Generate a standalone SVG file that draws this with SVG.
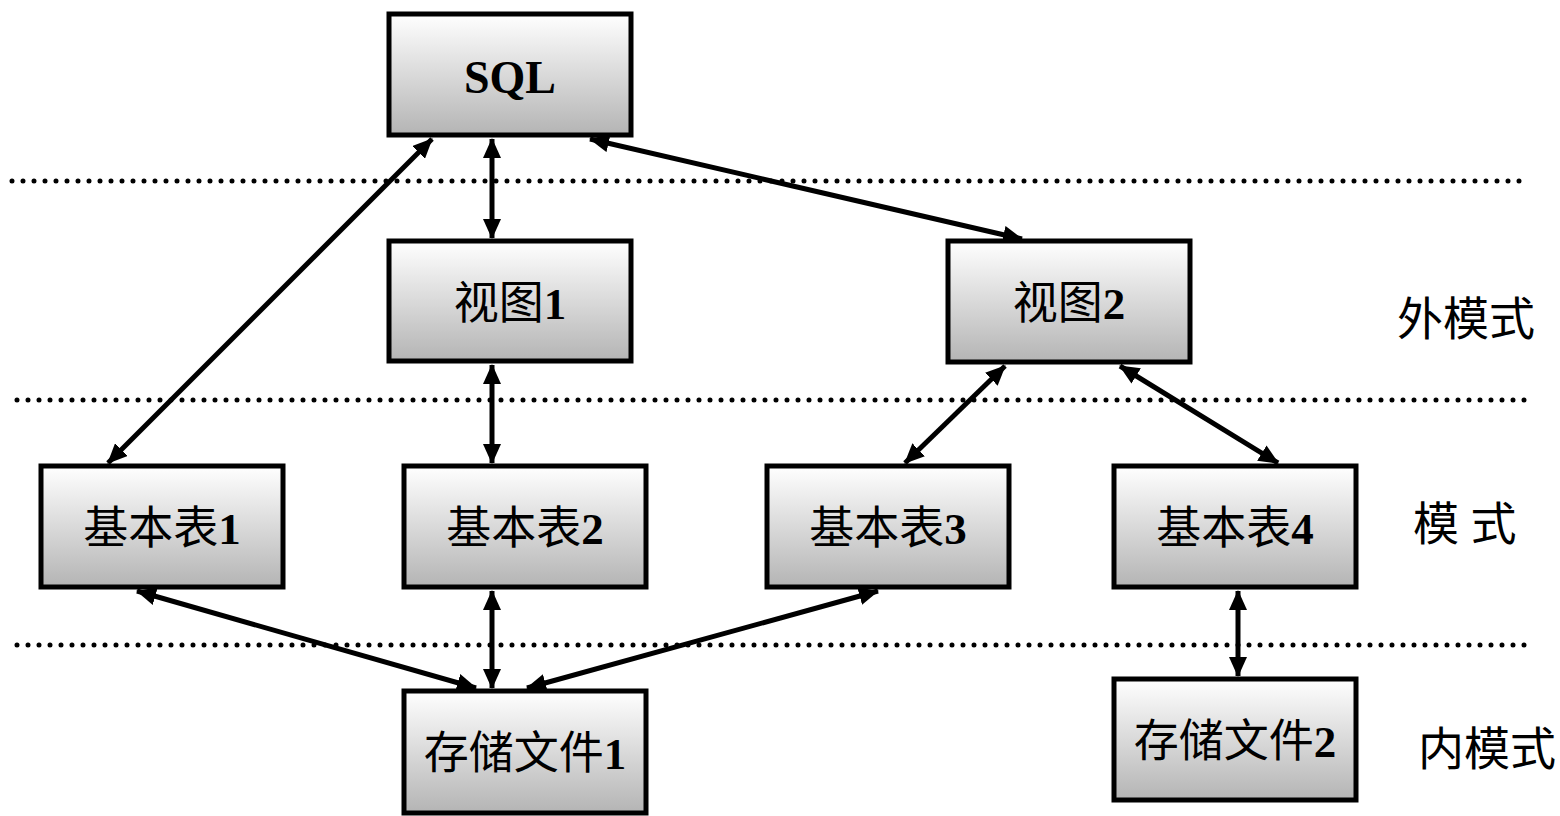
<svg xmlns="http://www.w3.org/2000/svg" width="1560" height="816" viewBox="0 0 1560 816">
<defs>
<linearGradient id="g" x1="0" y1="0" x2="0" y2="1">
<stop offset="0" stop-color="#ffffff"/>
<stop offset="1" stop-color="#b4b4b4"/>
</linearGradient>
<marker id="ah" viewBox="0 0 20 18" refX="19" refY="9" markerWidth="20" markerHeight="18" orient="auto-start-reverse" markerUnits="userSpaceOnUse">
<path d="M0,0 L20,9 L0,18 z" fill="#000"/>
</marker>
</defs>
<style>
.box{fill:url(#g);stroke:#000;stroke-width:5}
.t{font-family:"Liberation Serif","Noto Sans CJK SC",serif;font-size:45px;text-anchor:middle;fill:#000}
.b{font-weight:bold}
.lab{font-family:"Liberation Serif","Noto Sans CJK SC",serif;font-size:46px;fill:#000}
.dot{stroke:#000;stroke-width:5;stroke-linecap:round;stroke-dasharray:0 11;fill:none}
.c{stroke:#000;stroke-width:5;fill:none;marker-start:url(#ah);marker-end:url(#ah)}
</style>
<rect width="1560" height="816" fill="#fff"/>
<g id="layers">
<line class="dot" x1="12" y1="181" x2="1525" y2="181"/>
<line class="dot" x1="17" y1="400" x2="1530" y2="400"/>
<line class="dot" x1="17" y1="645" x2="1530" y2="645"/>
</g>
<g id="connectors">
<line class="c" x1="432" y1="139" x2="108" y2="463"/>
<line class="c" x1="492" y1="139" x2="492" y2="238"/>
<line class="c" x1="590" y1="139" x2="1022" y2="239"/>
<line class="c" x1="492" y1="365" x2="492" y2="463"/>
<line class="c" x1="1005" y1="366" x2="905" y2="463"/>
<line class="c" x1="1120" y1="366" x2="1278" y2="463"/>
<line class="c" x1="137" y1="591" x2="476" y2="688"/>
<line class="c" x1="492" y1="591" x2="492" y2="688"/>
<line class="c" x1="878" y1="591" x2="527" y2="688"/>
<line class="c" x1="1238" y1="591" x2="1238" y2="676"/>
</g>
<g id="sql"><rect class="box" x="389" y="14" width="242" height="121"/><text class="t b" x="510" y="93" style="font-size:46px">SQL</text></g>
<g id="view1"><rect class="box" x="389" y="241" width="242" height="120"/><text class="t" x="510" y="319">视图<tspan class="b">1</tspan></text></g>
<g id="view2"><rect class="box" x="948" y="241" width="242" height="121"/><text class="t" x="1069" y="319">视图<tspan class="b">2</tspan></text></g>
<g id="table1"><rect class="box" x="41" y="466" width="242" height="121"/><text class="t" x="162" y="544">基本表<tspan class="b">1</tspan></text></g>
<g id="table2"><rect class="box" x="404" y="466" width="242" height="121"/><text class="t" x="525" y="544">基本表<tspan class="b">2</tspan></text></g>
<g id="table3"><rect class="box" x="767" y="466" width="242" height="121"/><text class="t" x="888" y="544">基本表<tspan class="b">3</tspan></text></g>
<g id="table4"><rect class="box" x="1114" y="466" width="242" height="121"/><text class="t" x="1235" y="544">基本表<tspan class="b">4</tspan></text></g>
<g id="file1"><rect class="box" x="404" y="691" width="242" height="122"/><text class="t" x="525" y="769">存储文件<tspan class="b">1</tspan></text></g>
<g id="file2"><rect class="box" x="1114" y="679" width="242" height="121"/><text class="t" x="1235" y="757">存储文件<tspan class="b">2</tspan></text></g>
<g id="labels">
<text class="lab" x="1397" y="335">外模式</text>
<text class="lab" x="1413" y="540">模 式</text>
<text class="lab" x="1418" y="765">内模式</text>
</g>
</svg>
